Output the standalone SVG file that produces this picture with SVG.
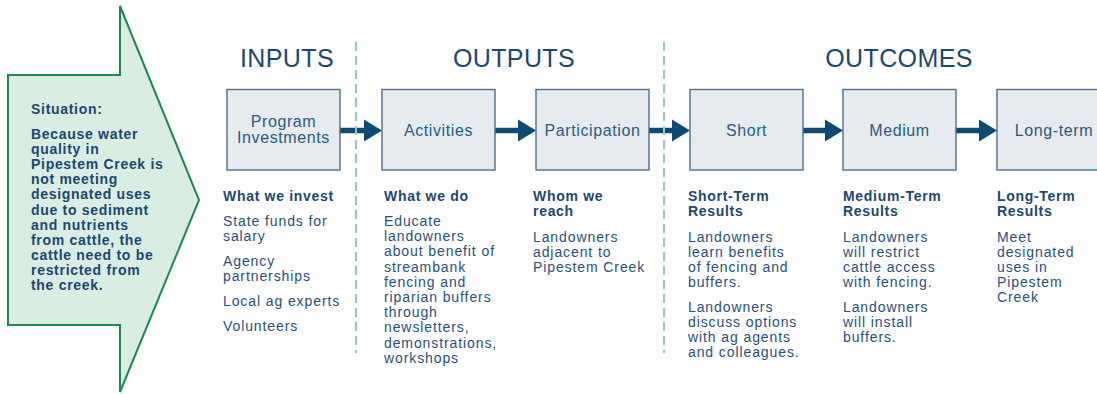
<svg xmlns="http://www.w3.org/2000/svg" width="1097" height="394" viewBox="0 0 1097 394">
<defs>
<style>
text{font-family:"Liberation Sans",Arial,Helvetica,sans-serif;}
.h{font-size:25px;fill:#1a4872;letter-spacing:0.4px;text-anchor:middle;}
.bl{font-size:16px;fill:#2a5a84;letter-spacing:0.6px;text-anchor:middle;}
.b{font-size:14px;font-weight:bold;fill:#1a4872;letter-spacing:0.7px;}
.t{font-size:14px;fill:#1f5080;letter-spacing:0.9px;}
.box{fill:#e6ebf0;stroke:#4c6f8f;stroke-width:1.4;}
.ln{stroke:#0f4a73;stroke-width:5.5;fill:none;}
.hd{fill:#0f4a73;}
.dash{stroke:#8fcfb0;stroke-width:2;stroke-dasharray:9 5;fill:none;}
</style>
</defs>
<rect width="1097" height="394" fill="#ffffff"/>

<g id="situation">
<polygon points="8,75 120,75 120,6 199,200 120,392 120,325 8,325" fill="#d9ede3" stroke="#1a8a50" stroke-width="2"/>
<text class="b" x="31" y="114">Situation:</text>
<text class="b" x="31" y="139">
<tspan x="31" dy="0">Because water</tspan>
<tspan x="31" dy="15.1">quality in</tspan>
<tspan x="31" dy="15.1">Pipestem Creek is</tspan>
<tspan x="31" dy="15.1">not meeting</tspan>
<tspan x="31" dy="15.1">designated uses</tspan>
<tspan x="31" dy="15.1">due to sediment</tspan>
<tspan x="31" dy="15.1">and nutrients</tspan>
<tspan x="31" dy="15.1">from cattle, the</tspan>
<tspan x="31" dy="15.1">cattle need to be</tspan>
<tspan x="31" dy="15.1">restricted from</tspan>
<tspan x="31" dy="15.1">the creek.</tspan>
</text>
</g>

<g id="headings">
<text class="h" x="287" y="67">INPUTS</text>
<text class="h" x="514" y="67">OUTPUTS</text>
<text class="h" x="899" y="67">OUTCOMES</text>
</g>

<g id="connectors">
<line class="ln" x1="340" y1="130.5" x2="366" y2="130.5"/>
<polygon class="hd" points="364,119.5 382,130.5 364,141.5"/>
<line class="ln" x1="495" y1="130.5" x2="520" y2="130.5"/>
<polygon class="hd" points="518,119.5 536,130.5 518,141.5"/>
<line class="ln" x1="649" y1="130.5" x2="674" y2="130.5"/>
<polygon class="hd" points="672,119.5 690,130.5 672,141.5"/>
<line class="ln" x1="803" y1="130.5" x2="827" y2="130.5"/>
<polygon class="hd" points="825,119.5 843,130.5 825,141.5"/>
<line class="ln" x1="956" y1="130.5" x2="981" y2="130.5"/>
<polygon class="hd" points="979,119.5 997,130.5 979,141.5"/>
</g>

<g id="inputs">
<rect class="box" x="227" y="89.5" width="113" height="80.5"/>
<text class="bl" x="283.5" y="127">Program</text>
<text class="bl" x="283.5" y="143">Investments</text>
<text class="b" x="223" y="201">What we invest</text>
<text class="t" x="223" y="226">State funds for</text>
<text class="t" x="223" y="241">salary</text>
<text class="t" x="223" y="266">Agency</text>
<text class="t" x="223" y="281">partnerships</text>
<text class="t" x="223" y="306">Local ag experts</text>
<text class="t" x="223" y="331">Volunteers</text>
</g>

<g id="activities">
<rect class="box" x="382" y="89.5" width="113" height="80.5"/>
<text class="bl" x="438.5" y="135.5">Activities</text>
<text class="b" x="384" y="201">What we do</text>
<text class="t" x="384" y="226">
<tspan x="384" dy="0">Educate</tspan>
<tspan x="384" dy="15.2">landowners</tspan>
<tspan x="384" dy="15.2">about benefit of</tspan>
<tspan x="384" dy="15.2">streambank</tspan>
<tspan x="384" dy="15.2">fencing and</tspan>
<tspan x="384" dy="15.2">riparian buffers</tspan>
<tspan x="384" dy="15.2">through</tspan>
<tspan x="384" dy="15.2">newsletters,</tspan>
<tspan x="384" dy="15.2">demonstrations,</tspan>
<tspan x="384" dy="15.2">workshops</tspan>
</text>
</g>

<g id="participation">
<rect class="box" x="536" y="89.5" width="113" height="80.5"/>
<text class="bl" x="592.5" y="135.5">Participation</text>
<text class="b" x="533" y="201">Whom we</text>
<text class="b" x="533" y="216">reach</text>
<text class="t" x="533" y="242">Landowners</text>
<text class="t" x="533" y="257">adjacent to</text>
<text class="t" x="533" y="272">Pipestem Creek</text>
</g>

<g id="short">
<rect class="box" x="690" y="89.5" width="113" height="80.5"/>
<text class="bl" x="746.5" y="135.5">Short</text>
<text class="b" x="688" y="201">Short-Term</text>
<text class="b" x="688" y="216">Results</text>
<text class="t" x="688" y="242">Landowners</text>
<text class="t" x="688" y="257">learn benefits</text>
<text class="t" x="688" y="272">of fencing and</text>
<text class="t" x="688" y="287">buffers.</text>
<text class="t" x="688" y="312">Landowners</text>
<text class="t" x="688" y="327">discuss options</text>
<text class="t" x="688" y="342">with ag agents</text>
<text class="t" x="688" y="357">and colleagues.</text>
</g>

<g id="medium">
<rect class="box" x="843" y="89.5" width="113" height="80.5"/>
<text class="bl" x="899.5" y="135.5">Medium</text>
<text class="b" x="843" y="201">Medium-Term</text>
<text class="b" x="843" y="216">Results</text>
<text class="t" x="843" y="242">Landowners</text>
<text class="t" x="843" y="257">will restrict</text>
<text class="t" x="843" y="272">cattle access</text>
<text class="t" x="843" y="287">with fencing.</text>
<text class="t" x="843" y="312">Landowners</text>
<text class="t" x="843" y="327">will install</text>
<text class="t" x="843" y="342">buffers.</text>
</g>

<g id="longterm">
<rect class="box" x="997" y="89.5" width="113" height="80.5"/>
<text class="bl" x="1054" y="135.5">Long-term</text>
<text class="b" x="997" y="201">Long-Term</text>
<text class="b" x="997" y="216">Results</text>
<text class="t" x="997" y="242">Meet</text>
<text class="t" x="997" y="257">designated</text>
<text class="t" x="997" y="272">uses in</text>
<text class="t" x="997" y="287">Pipestem</text>
<text class="t" x="997" y="302">Creek</text>
</g>

<g id="dividers">
<line class="dash" x1="356" y1="42" x2="356" y2="353"/>
<line class="dash" x1="664" y1="42" x2="664" y2="353"/>
</g>
</svg>
